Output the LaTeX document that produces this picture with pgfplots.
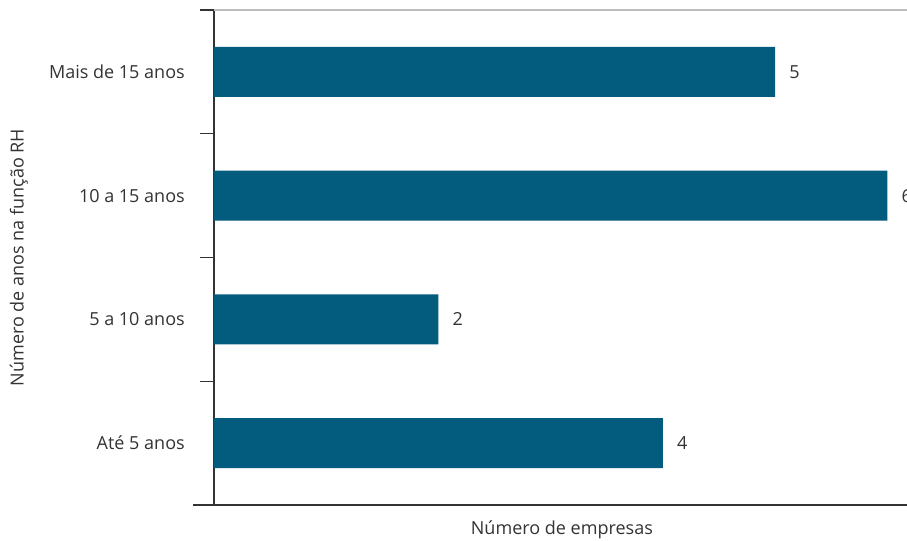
\documentclass[border=0pt]{standalone}
\usepackage{pgfplots}
\pgfplotsset{compat=1.18}
\usepackage{fontspec}
\setmainfont{Open Sans}
\definecolor{barblue}{HTML}{035B7D}
\definecolor{txt}{HTML}{333333}
\definecolor{topline}{HTML}{BDBDBD}
\begin{document}
\begin{tikzpicture}
\begin{axis}[
  at={(0pt,0pt)}, anchor=south west,
  scale only axis,
  width=519.75pt, height=371.25pt,
  xmin=0, xmax=6.176,
  ymin=-0.5, ymax=3.5,
  axis x line=bottom, axis y line=left,
  axis line style={-, draw=txt, line width=0.9pt},
  xtick=\empty,
  ytick={0,1,2,3},
  yticklabels={Até 5 anos,5 a 10 anos,10 a 15 anos,Mais de 15 anos},
  major tick length=0pt,
  minor ytick={-0.5,0.5,1.5,2.5,3.5},
  minor tick length=10.5pt,
  tick align=outside,
  minor tick style={draw=txt, line width=0.8pt},
  font=\fontsize{13.5}{16}\selectfont,
  /pgf/number format/assume math mode=true,
  color=txt,
  yticklabel style={inner sep=0pt, anchor=east, xshift=-21.75pt, text=txt},
  xlabel={Número de empresas},
  ylabel={Número de anos na função RH},
  xlabel style={at={(axis description cs:0.502,0)}, anchor=center, yshift=-18.75pt, text=txt},
  ylabel style={at={(axis description cs:-0.2814,0.5)}, anchor=center, rotate=0, text=txt},
  xbar, bar width=0.404,
  nodes near coords,
  every node near coord/.append style={text=txt, anchor=west, inner sep=0pt, xshift=10.5pt},
  clip=false,
]
\addplot[fill=barblue, draw=none] coordinates {(4,0) (2,1) (6,2) (5,3)};
\draw[topline, line width=0.8pt] (rel axis cs:0,1) -- (rel axis cs:1,1);
\draw[txt, line width=0.9pt] (rel axis cs:0,0) -- ++(-15.75pt,0pt);
\end{axis}
\pgfresetboundingbox
\path[use as bounding box] (-160.5pt,-26.25pt) rectangle (519.75pt,378.75pt);
\end{tikzpicture}
\end{document}
